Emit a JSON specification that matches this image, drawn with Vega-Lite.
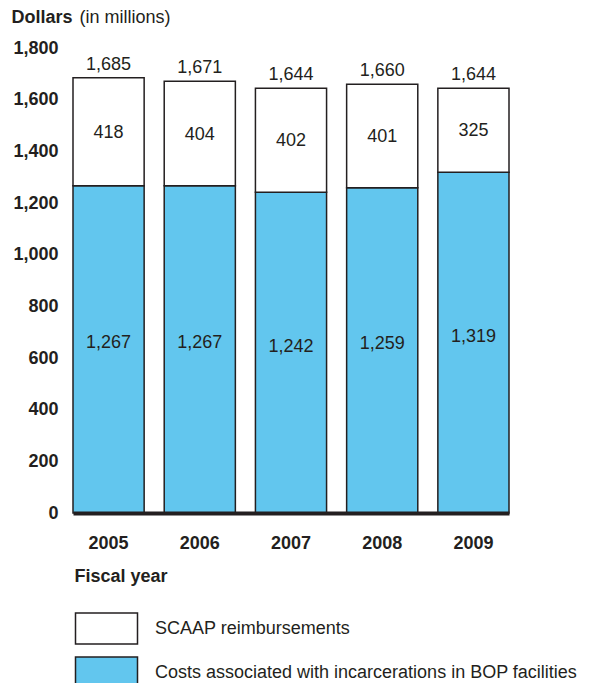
{
  "$schema": "https://vega.github.io/schema/vega-lite/v6.json",
  "width": 436,
  "height": 465,
  "autosize": {"type": "none"},
  "padding": {"left": 73, "top": 48, "right": 83, "bottom": 170},
  "background": "white",
  "config": {
    "font": "Liberation Sans",
    "view": {"stroke": null},
    "text": {"font": "Liberation Sans", "fontSize": 18, "color": "#231f20"}
  },
  "data": {
    "values": [
      {"year": "2005", "series": "Costs associated with incarcerations in BOP facilities", "value": 1267},
      {"year": "2005", "series": "SCAAP reimbursements", "value": 418},
      {"year": "2006", "series": "Costs associated with incarcerations in BOP facilities", "value": 1267},
      {"year": "2006", "series": "SCAAP reimbursements", "value": 404},
      {"year": "2007", "series": "Costs associated with incarcerations in BOP facilities", "value": 1242},
      {"year": "2007", "series": "SCAAP reimbursements", "value": 402},
      {"year": "2008", "series": "Costs associated with incarcerations in BOP facilities", "value": 1259},
      {"year": "2008", "series": "SCAAP reimbursements", "value": 401},
      {"year": "2009", "series": "Costs associated with incarcerations in BOP facilities", "value": 1319},
      {"year": "2009", "series": "SCAAP reimbursements", "value": 325}
    ]
  },
  "resolve": {"axis": {"y": "independent"}},
  "layer": [
    {
      "mark": {"type": "bar", "stroke": "#231f20", "strokeWidth": 1.5},
      "encoding": {
        "x": {
          "field": "year", "type": "nominal",
          "scale": {"paddingInner": 0.22, "paddingOuter": 0},
          "axis": {
            "zindex": 1, "domainColor": "#231f20", "domainWidth": 4,
            "ticks": false, "labelAngle": 0, "labelFont": "Liberation Sans",
            "labelFontSize": 18, "labelFontWeight": "bold", "labelColor": "#231f20",
            "labelPadding": 21, "labelBaseline": "top",
            "title": "Fiscal year", "titleFont": "Liberation Sans", "titleFontSize": 18,
            "titleFontWeight": "bold", "titleColor": "#231f20",
            "titleAnchor": "start", "titleAlign": "left", "titleBaseline": "alphabetic",
            "titleX": 1, "titleY": 68
          }
        },
        "y": {
          "aggregate": "sum", "field": "value", "type": "quantitative", "stack": "zero",
          "scale": {"domain": [0, 1800], "nice": false},
          "axis": {
            "values": [0, 200, 400, 600, 800, 1000, 1200, 1400, 1600, 1800],
            "format": ",d", "grid": false, "domain": false, "ticks": false,
            "labelPadding": 15, "labelFont": "Liberation Sans", "labelFontSize": 18,
            "labelFontWeight": "bold", "labelColor": "#231f20",
            "title": "Dollars", "titleAngle": 0, "titleAlign": "left",
            "titleBaseline": "alphabetic", "titleX": -62, "titleY": -26,
            "titleFont": "Liberation Sans", "titleFontSize": 18, "titleFontWeight": "bold",
            "titleColor": "#231f20"
          }
        },
        "color": {
          "field": "series", "type": "nominal",
          "scale": {
            "domain": ["SCAAP reimbursements", "Costs associated with incarcerations in BOP facilities"],
            "range": ["#ffffff", "#62c6ee"]
          },
          "legend": {
            "orient": "none", "legendX": 17, "legendY": 564, "title": null,
            "padding": 0, "symbolType": "M-2,-1H2V1H-2Z", "symbolSize": 961,
            "symbolStrokeColor": "#231f20", "symbolStrokeWidth": 1.5, "symbolOpacity": 1,
            "rowPadding": 7, "labelOffset": 32, "labelFont": "Liberation Sans",
            "labelFontSize": 18, "labelColor": "#231f20", "labelLimit": 600
          }
        },
        "order": {"field": "series", "type": "nominal", "sort": "ascending"}
      }
    },
    {
      "transform": [
        {"stack": "value", "groupby": ["year"], "sort": [{"field": "series", "order": "ascending"}], "as": ["v0", "v1"]},
        {"calculate": "(datum.v0 + datum.v1) / 2", "as": "mid"},
        {"filter": "datum.series == 'SCAAP reimbursements'"}
      ],
      "mark": {"type": "text", "baseline": "middle", "dy": 1},
      "encoding": {
        "x": {"field": "year", "type": "nominal"},
        "y": {"field": "mid", "type": "quantitative", "axis": null},
        "text": {"field": "value", "type": "quantitative", "format": ",d"}
      }
    },
    {
      "transform": [
        {"stack": "value", "groupby": ["year"], "sort": [{"field": "series", "order": "ascending"}], "as": ["v0", "v1"]},
        {"calculate": "(datum.v0 + datum.v1) / 2", "as": "mid"},
        {"filter": "datum.series != 'SCAAP reimbursements'"}
      ],
      "mark": {"type": "text", "baseline": "middle", "dy": -6},
      "encoding": {
        "x": {"field": "year", "type": "nominal"},
        "y": {"field": "mid", "type": "quantitative", "axis": null},
        "text": {"field": "value", "type": "quantitative", "format": ",d"}
      }
    },
    {
      "transform": [
        {"aggregate": [{"op": "sum", "field": "value", "as": "total"}], "groupby": ["year"]}
      ],
      "mark": {"type": "text", "baseline": "alphabetic", "dy": -8},
      "encoding": {
        "x": {"field": "year", "type": "nominal"},
        "y": {
          "field": "total", "type": "quantitative",
          "axis": {
            "orient": "left", "labels": false, "ticks": false, "domain": false, "grid": false,
            "title": "(in millions)", "titleAngle": 0, "titleAlign": "left",
            "titleBaseline": "alphabetic", "titleX": 6, "titleY": -26,
            "titleFont": "Liberation Sans", "titleFontSize": 18, "titleFontWeight": "normal",
            "titleColor": "#231f20"
          }
        },
        "text": {"field": "total", "type": "quantitative", "format": ",d"}
      }
    }
  ]
}
